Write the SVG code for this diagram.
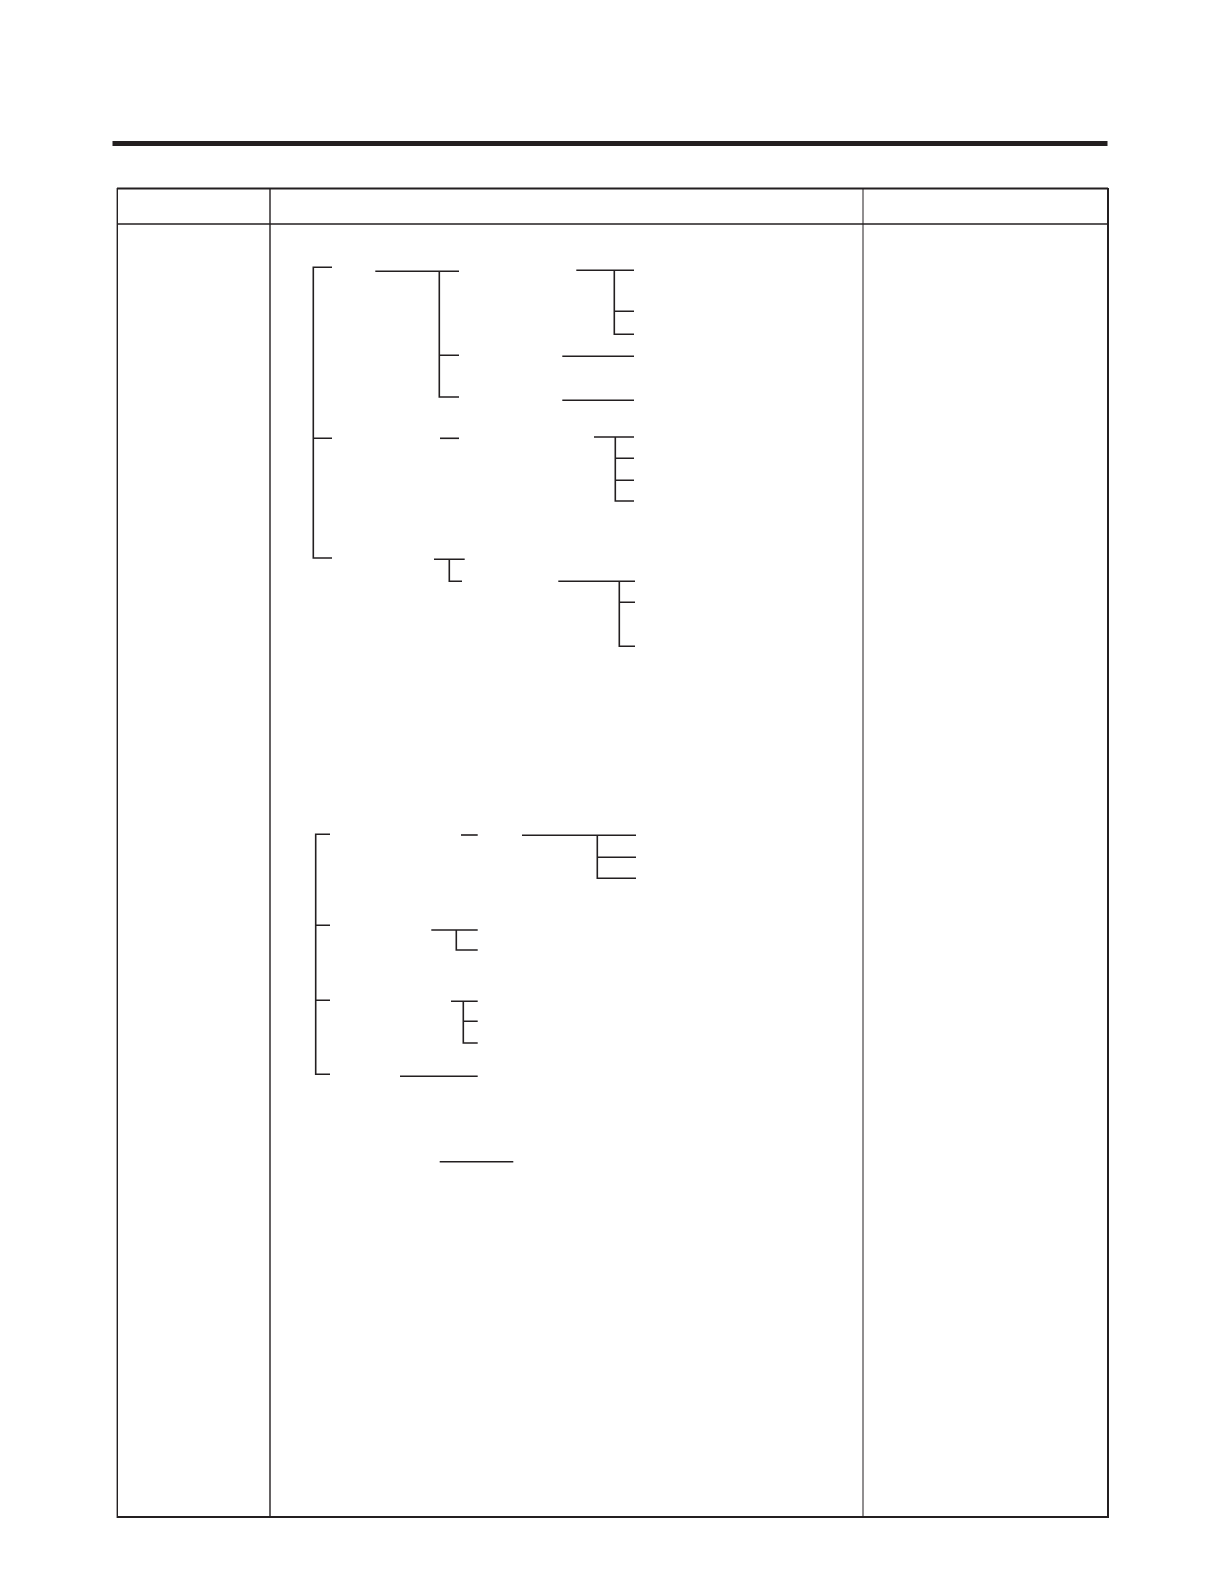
<svg xmlns="http://www.w3.org/2000/svg" width="1218" height="1586" viewBox="0 0 1218 1586">
<style>
.t{stroke:#231f20;fill:none;stroke-width:1.6}
.b{stroke:#231f20;fill:none}
</style>
<rect x="0" y="0" width="1218" height="1586" fill="#ffffff"/>
<g id="header-bar">
<rect x="112.5" y="141" width="995" height="5" fill="#231f20"/>
</g>
<g id="table">
<line class="b" x1="117" y1="188.5" x2="1108" y2="188.5" stroke-width="2"/>
<line class="b" x1="117" y1="224" x2="1108" y2="224" stroke-width="1.4"/>
<line class="b" x1="117" y1="1517" x2="1108" y2="1517" stroke-width="2.2"/>
<line class="b" x1="117.3" y1="188" x2="117.3" y2="1518" stroke-width="1.4"/>
<line class="b" x1="1108" y1="188" x2="1108" y2="1518" stroke-width="2"/>
<line class="b" x1="270" y1="188" x2="270" y2="1517" stroke-width="1.4"/>
<line class="b" x1="863" y1="188" x2="863" y2="1517" stroke-width="1"/>
</g>
<g id="connectors">
<!-- upper tree -->
<path class="t" d="M332,267.3 H313.3 V558 H332 M313.3,438.3 H332"/>
<path class="t" d="M375.3,271.3 H459 M439.3,271.3 V397 H459 M439.3,355.3 H459"/>
<path class="t" d="M576.3,270.3 H634 M614.3,270.3 V334.3 H634 M614.3,311.3 H634"/>
<path class="t" d="M562.3,356.3 H634 M562.3,400.3 H634"/>
<path class="t" d="M440,438.3 H459"/>
<path class="t" d="M594,437 H634 M615.3,437 V501 H634 M615.3,458.3 H634 M615.3,480.3 H634"/>
<path class="t" d="M434,559.3 H464.7 M449.3,559.3 V581.3 H462"/>
<path class="t" d="M558.3,581.3 H635 M619.3,581.3 V646.3 H635 M619.3,602.3 H635"/>
<!-- lower tree -->
<path class="t" d="M330,834.3 H315.7 V1074.3 H330 M315.7,925.3 H330 M315.7,1000.3 H330"/>
<path class="t" d="M461,835 H477.7"/>
<path class="t" d="M522,835.3 H636 M597.3,835.3 V878.3 H636 M597.3,857.3 H636"/>
<path class="t" d="M431.3,930 H477.7 M456.3,930 V950 H477.7"/>
<path class="t" d="M451,1001.3 H477.7 M463.3,1001.3 V1043 H477.7 M463.3,1021.3 H477.7"/>
<path class="t" d="M400,1076.3 H477.7"/>
<path class="t" d="M439.7,1161.7 H513.3"/>
</g>
</svg>
